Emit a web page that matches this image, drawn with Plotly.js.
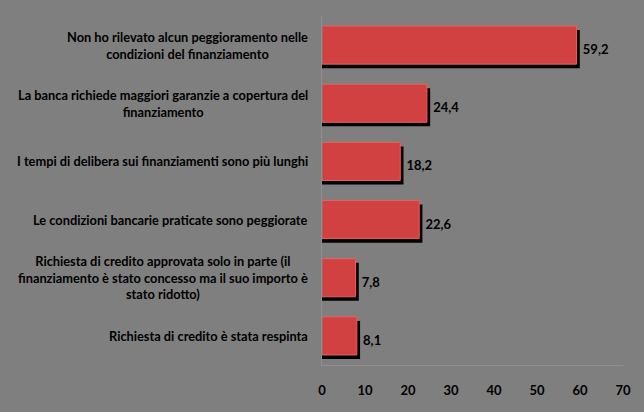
<!DOCTYPE html>
<html>
<head>
<meta charset="utf-8">
<script src="https://cdn.plot.ly/plotly-3.0.1.min.js"></script>
<style>html,body{margin:0;padding:0;background:#7f7f7f;}#chart{width:644px;height:412px;}</style>
</head>
<body>
<div id="chart"></div>
<script>
const categories = [
  "Non ho rilevato alcun peggioramento nelle<br>condizioni del finanziamento",
  "La banca richiede maggiori garanzie a copertura del<br>finanziamento",
  "I tempi di delibera sui finanziamenti sono più lunghi",
  "Le condizioni bancarie praticate sono peggiorate",
  "Richiesta di credito approvata solo in parte (il<br>finanziamento è stato concesso ma il suo importo è<br>stato ridotto)",
  "Richiesta di credito è stata respinta"
];
const values = [59.2, 24.4, 18.2, 22.6, 7.8, 8.1];
const tickValues = [0, 10, 20, 30, 40, 50, 60, 70];

const FONT = "Lato";
const BAR_W = 0.655;
const SHADOW_DX = 0.75;   // data units (~3px)
const SHADOW_DY = 0.07;   // category units (~4px)

const labelFont = {family: FONT, size: 12.8, color: '#000000', weight: 'bold'};
const valueFont = {family: FONT, size: 13, color: '#000000', weight: 'bold'};

const shadow = {
  type: 'bar', orientation: 'h',
  y: categories, x: values.map(v => v + SHADOW_DX),
  width: BAR_W, offset: -BAR_W / 2 + SHADOW_DY,
  marker: {color: '#000000', line: {width: 0}},
  text: values.map(v => v.toFixed(1).replace('.', ',')),
  textposition: 'outside', cliponaxis: false,
  textfont: valueFont,
  hoverinfo: 'skip', showlegend: false
};
const bars = {
  type: 'bar', orientation: 'h',
  y: categories, x: values,
  width: BAR_W, offset: -BAR_W / 2,
  marker: {color: '#d24141', line: {color: '#e06464', width: 1}},
  showlegend: false
};

const annotations = categories.map(c => ({
  xref: 'paper', yref: 'y', x: 0, y: c,
  xanchor: 'right', yanchor: 'middle', xshift: -12,
  text: c, align: 'center', showarrow: false,
  font: labelFont
}));

const layout = {
  width: 644, height: 412,
  paper_bgcolor: '#7f7f7f', plot_bgcolor: '#7f7f7f',
  margin: {l: 322, r: 21, t: 16, b: 47},
  barmode: 'overlay',
  showlegend: false,
  xaxis: {
    range: [0, 70], tickvals: tickValues, ticktext: tickValues.map(String),
    showgrid: false, zeroline: false,
    showline: true, linecolor: '#8e8e8e', linewidth: 1,
    ticks: '', ticklabelstandoff: 13,
    tickfont: valueFont,
    fixedrange: true
  },
  yaxis: {
    type: 'category', categoryorder: 'array', categoryarray: categories,
    autorange: 'reversed', showticklabels: false,
    showgrid: false, zeroline: false,
    showline: true, linecolor: '#8e8e8e', linewidth: 1, ticks: '',
    fixedrange: true
  },
  annotations: annotations
};

Plotly.newPlot('chart', [shadow, bars], layout, {displayModeBar: false, staticPlot: true});
</script>
</body>
</html>
